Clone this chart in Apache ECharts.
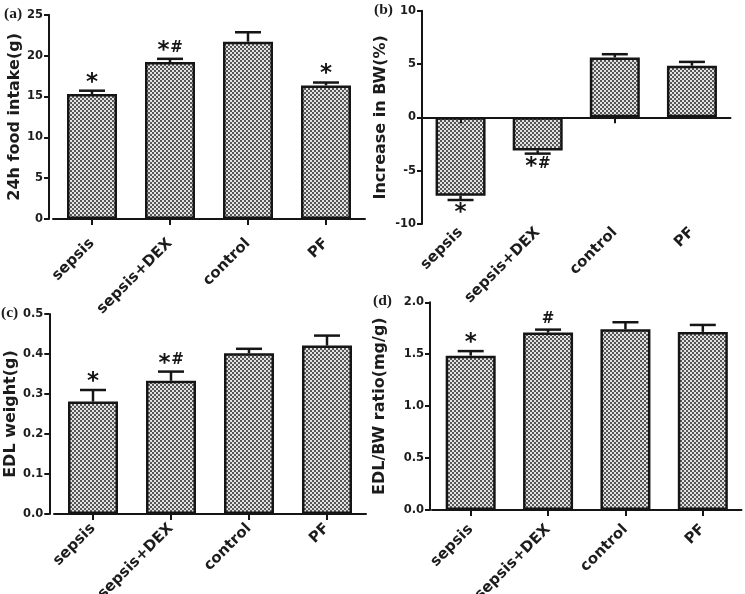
<!DOCTYPE html>
<html><head><meta charset="utf-8">
<script src="https://cdn.jsdelivr.net/npm/echarts@6/dist/echarts.min.js"></script>
<style>html,body{margin:0;padding:0;background:#fff}#c{width:745px;height:594px}</style>
</head><body><div id="c"></div>
<script>
// ---- data ----
const categories = ['sepsis', 'sepsis+DEX', 'control', 'PF'];
const foodMean = [15.3, 19.2, 21.7, 16.35];
const foodErr = [0.4, 0.4, 1.15, 0.35];
const foodMarks = ['*', '*#', '', '*'];
const bwMean = [-7.35, -3.1, 5.62, 4.84];
const bwErr = [0.4, 0.3, 0.3, 0.36];
const bwMarks = ['*', '*#', '', ''];
const edlMean = [0.281, 0.333, 0.402, 0.421];
const edlErr = [0.029, 0.023, 0.011, 0.025];
const edlMarks = ['*', '*#', '', ''];
const ratioMean = [1.486, 1.708, 1.74, 1.715];
const ratioErr = [0.044, 0.029, 0.068, 0.067];
const ratioMarks = ['*', '#', '', ''];
const panelTags = ['(a)', '(b)', '(c)', '(d)'];
const yTitles = ['24h food intake(g)', 'Increase in BW(%)', 'EDL weight(g)', 'EDL/BW ratio(mg/g)'];
const yMin = [0, -10, 0, 0];
const yMax = [25, 10, 0.5, 2];
const yStep = [5, 5, 0.1, 0.5];
const yDecimals = [0, 0, 1, 1];

// ---- styling ----
const FONT = 'DejaVu Sans';
const INK = '#151515';
const TXT = '#1c1c1c';
const pc = document.createElement('canvas');
pc.width = 4; pc.height = 4;
const g = pc.getContext('2d');
g.fillStyle = '#e2e2e2'; g.fillRect(0, 0, 4, 4);
g.fillStyle = '#575757'; g.fillRect(0, 0, 2, 2); g.fillRect(2, 2, 2, 2);
const pattern = { image: pc, repeat: 'repeat' };

const grids = [
  { left: 53, top: 14.7, width: 312, height: 204.3 },
  { left: 422, top: 10.7, width: 308.5, height: 213.3 },
  { left: 54, top: 314, width: 312, height: 200 },
  { left: 432, top: 302.3, width: 309.5, height: 207.7 }
].map(gr => Object.assign({ outerBoundsMode: 'none', containLabel: false }, gr));
const yOffsets = [4, 0, 4.7, 2];
const nameGaps = [24, 33, 30, 42];
const labelMargins = [22, 6, 12, 17];

const xLabelStyle = gi => ({ show: true, rotate: 45, interval: 0, margin: labelMargins[gi], fontFamily: FONT, fontWeight: 'bold', fontSize: 15, color: TXT });

function xAxisBase(gi) {
  return {
    type: 'category', gridIndex: gi, data: categories, z: 3,
    axisLine: { show: true, onZero: true, lineStyle: { color: INK, width: 2 } },
    axisTick: { show: true, alignWithLabel: true, length: 6, lineStyle: { color: INK, width: 2 } },
    axisLabel: xLabelStyle(gi),
    splitLine: { show: false }
  };
}
const xAxes = [0, 1, 2, 3].map(xAxisBase);
// panel (b): zero line carries ticks, labels sit at the bottom of the plot
xAxes[1].axisLabel = { show: false };
xAxes.push({
  type: 'category', gridIndex: 1, data: categories, position: 'bottom',
  axisLine: { show: false, onZero: false }, axisTick: { show: false },
  axisLabel: xLabelStyle(1),
  splitLine: { show: false }
});

const yAxes = [0, 1, 2, 3].map(i => ({
  type: 'value', gridIndex: i, min: yMin[i], max: yMax[i], interval: yStep[i], offset: yOffsets[i],
  name: yTitles[i], nameLocation: 'middle', nameGap: nameGaps[i],
  nameTextStyle: { fontFamily: FONT, fontWeight: 'bold', fontSize: 16, color: TXT },
  axisLine: { show: true, onZero: false, lineStyle: { color: INK, width: 2 } },
  axisTick: { show: true, length: 5, lineStyle: { color: INK, width: 2 } },
  axisLabel: { fontFamily: FONT, fontWeight: 'bold', fontSize: 11.5, color: TXT, margin: 6,
    formatter: v => Number(v).toFixed(yDecimals[i]) },
  splitLine: { show: false }
}));

function barSeries(i, mean) {
  return {
    type: 'bar', xAxisIndex: i, yAxisIndex: i, data: mean, barWidth: 50, z: 2,
    itemStyle: { color: pattern, borderColor: INK, borderWidth: 2.5 }
  };
}
function errSeries(i, mean, err, marks) {
  return {
    type: 'custom', xAxisIndex: i, yAxisIndex: i, z: 5,
    data: mean.map((m, k) => [k, m, err[k]]),
    renderItem: function (params, api) {
      const k = api.value(0), m = api.value(1), e = api.value(2);
      const up = m >= 0;
      const end = up ? m + e : m - e;
      const p0 = api.coord([k, m]);
      const p1 = api.coord([k, end]);
      const cap = 13;
      const children = [
        { type: 'line', shape: { x1: p0[0], y1: p0[1], x2: p1[0], y2: p1[1] }, style: { stroke: INK, lineWidth: 2.5 } },
        { type: 'line', shape: { x1: p1[0] - cap, y1: p1[1], x2: p1[0] + cap, y2: p1[1] }, style: { stroke: INK, lineWidth: 2.5 } }
      ];
      const mk = marks[params.dataIndex] || '';
      const chars = mk.split('');
      chars.forEach((ch, j) => {
        const dx = (j - (chars.length - 1) / 2) * 13;
        const centre = p1[1] + (up ? -12 : 9);
        const isStar = ch === '*';
        children.push({
          type: 'text', x: p1[0] + dx, y: centre + (isStar ? 4 : 1),
          style: {
            text: ch, align: 'center', verticalAlign: 'middle', fill: INK,
            fontFamily: FONT, fontWeight: 'bold', fontSize: isStar ? 23 : 15
          }
        });
      });
      return { type: 'group', children: children };
    }
  };
}

const tagPos = [[4, 15], [374, 11], [1, 314], [373, 302]];
const graphics = panelTags.map((t, i) => ({
  type: 'text', left: tagPos[i][0], top: tagPos[i][1] - 9,
  style: { text: t, fontFamily: 'Liberation Serif', fontWeight: 'bold', fontSize: 15.5, fill: TXT }
}));

const chart = echarts.init(document.getElementById('c'), null, { renderer: 'canvas' });
chart.setOption({
  animation: false,
  backgroundColor: '#ffffff',
  grid: grids,
  xAxis: xAxes,
  yAxis: yAxes,
  graphic: graphics,
  series: [
    barSeries(0, foodMean), errSeries(0, foodMean, foodErr, foodMarks),
    barSeries(1, bwMean), errSeries(1, bwMean, bwErr, bwMarks),
    barSeries(2, edlMean), errSeries(2, edlMean, edlErr, edlMarks),
    barSeries(3, ratioMean), errSeries(3, ratioMean, ratioErr, ratioMarks)
  ]
});
</script></body></html>
